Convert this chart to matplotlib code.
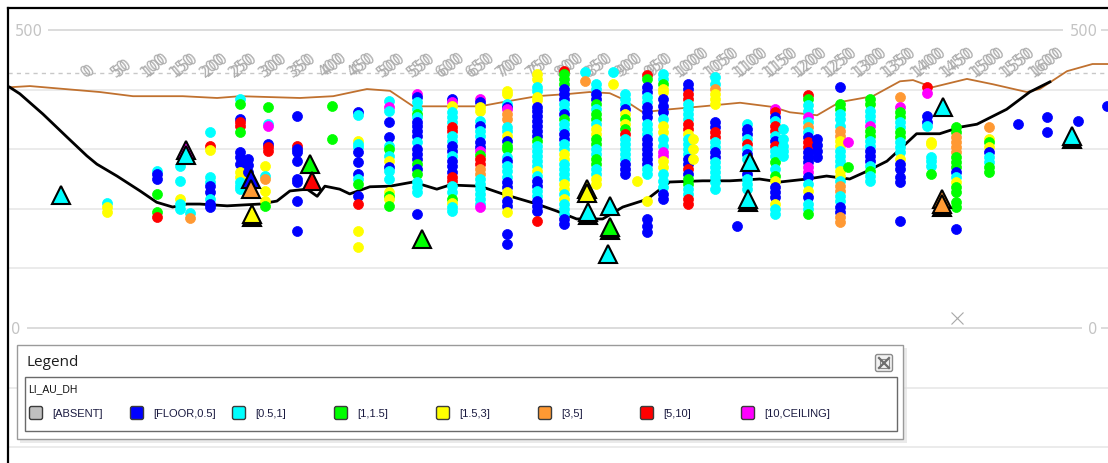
import matplotlib
matplotlib.use('Agg')
import matplotlib.pyplot as plt
from matplotlib.patches import Rectangle, FancyBboxPatch
import matplotlib.transforms as mtransforms

# ---------------- data ----------------
CLASS_CODES = ['A', 'B', 'C', 'G', 'Y', 'O', 'R', 'M']
CLASS_LABELS = ['[ABSENT]', '[FLOOR,0.5]', '[0.5,1]', '[1,1.5]', '[1.5,3]',
                '[3,5]', '[5,10]', '[10,CEILING]']
CLASS_COLORS = ['#C0C0C0', '#0000FF', '#00FFFF', '#00FF00', '#FFFF00',
                '#FF9933', '#FF0000', '#FF00FF']
LEGEND_FIELD = 'LI_AU_DH'

# topography (distance along section, elevation)
TOPO_X = [-132, -98, 20, 76, 160, 218, 257, 358, 414, 471, 510, 549, 616, 662, 700,
          758, 814, 847, 881, 903, 937, 982, 1038, 1101, 1156, 1185, 1231, 1269, 1325,
          1371, 1393, 1426, 1484, 1528, 1585, 1607, 1653, 1696, 1740]
TOPO_Z = [404, 406, 396, 389, 389, 386, 389, 386, 389, 401, 398, 372, 372, 372, 379,
          389, 393, 396, 394, 384, 362, 367, 372, 378, 371, 362, 357, 379, 389,
          414, 416, 404, 418, 409, 396, 401, 431, 443, 443]

# base surface
BASE_X = [-132, -115, -76, -35, -2, 15, 49, 88, 116, 143, 167, 189, 235, 290, 319, 341,
          370, 387, 400, 425, 442, 476, 510, 549, 589, 611, 662, 700, 758, 792, 825,
          869, 903, 944, 982, 1038, 1084, 1134, 1168, 1214, 1247, 1286, 1315, 1349,
          1371, 1399, 1438, 1472, 1501, 1551, 1590, 1624]
BASE_Z = [404, 393, 359, 320, 289, 275, 255, 230, 211, 203, 208, 208, 205, 208, 213, 230,
          233, 221, 238, 233, 225, 237, 238, 245, 233, 240, 238, 225, 208, 196, 183,
          183, 203, 216, 245, 247, 247, 250, 245, 250, 255, 250, 263, 280,
          300, 326, 326, 337, 342, 367, 396, 413]

# drill-hole samples: hole position, sample elevations, grade class per sample
HOLE_X = [32, 116, 155, 172, 206, 257, 270, 299, 304, 353, 412, 456, 508, 555, 614, 662,
          707, 758, 803, 839, 858, 886, 906, 927, 944, 971, 1013, 1021, 1058, 1096, 1112,
          1160, 1173, 1215, 1231, 1269, 1283, 1320, 1371, 1416, 1423, 1465, 1521, 1570,
          1620, 1671, 1720]
HOLE_Z = [
    [210, 203, 195],
    [263, 258, 250, 225, 195, 186],
    [272, 247, 216, 208, 200],
    [193, 185],
    [329, 305, 299, 253, 245, 238, 228, 216, 208, 203],
    [384, 376, 351, 346, 339, 329, 295, 287, 275, 262, 253, 245, 238, 233],
    [284, 274, 262],
    [272, 255, 250, 230, 213, 205],
    [371, 342, 339, 309, 304, 297],
    [356, 305, 300, 295, 280, 250, 245, 213, 163],
    [373, 317],
    [362, 357, 314, 309, 304, 295, 279, 258, 250, 242, 221, 208, 163, 136],
    [381, 371, 364, 346, 320, 305, 300, 289, 280, 270, 263, 250, 228, 221, 216, 205],
    [393, 388, 379, 367, 359, 354, 346, 339, 331, 322, 312, 300, 292, 284, 275, 267,
     258, 245, 237, 228, 191],
    [384, 379, 373, 362, 354, 346, 337, 331, 322, 314, 305, 297, 289, 280, 272, 262,
     253, 247, 238, 228, 216, 210, 203, 196],
    [384, 379, 371, 364, 347, 339, 331, 322, 312, 304, 297, 290, 284, 275, 267, 258,
     250, 242, 233, 225, 216, 208, 203],
    [398, 393, 376, 371, 367, 359, 351, 337, 331, 322, 314, 305, 300, 287, 280, 272,
     263, 253, 245, 237, 228, 221, 213, 205, 195, 158, 141],
    [426, 418, 404, 398, 388, 383, 371, 364, 356, 347, 339, 331, 322, 314, 305, 297,
     289, 280, 272, 263, 255, 247, 238, 230, 221, 213, 205, 196, 180],
    [431, 426, 418, 409, 401, 393, 384, 376, 367, 359, 351, 342, 334, 326, 317, 309,
     300, 292, 284, 275, 267, 258, 250, 242, 233, 225, 216, 208, 200, 191, 183, 175],
    [430, 414],
    [409, 401, 393, 384, 376, 367, 359, 351, 342, 334, 326, 317, 309, 300, 292, 284,
     275, 267, 258, 250, 242],
    [430, 409],
    [393, 384, 376, 367, 359, 351, 342, 334, 326, 317, 309, 300, 292, 284, 275, 267, 258],
    [247],
    [425, 418, 404, 396, 388, 379, 371, 362, 354, 342, 334, 326, 317, 309, 300, 292,
     284, 275, 267, 258, 213, 183, 171, 161],
    [426, 418, 409, 401, 396, 384, 373, 362, 351, 339, 329, 317, 305, 295, 289, 280,
     270, 258, 247, 237, 225, 216],
    [409, 401, 393, 384, 376, 367, 359, 351, 342, 334, 326, 317, 309, 300, 292, 284,
     275, 267, 258, 250, 242, 233, 225, 216, 208],
    [317, 300, 284],
    [421, 409, 401, 393, 384, 376, 346, 337, 329, 320, 312, 304, 295, 287, 279, 270,
     262, 253, 245, 233],
    [171],
    [342, 334, 326, 317, 309, 300, 292, 284, 267, 258, 250, 242, 233],
    [367, 362, 354, 347, 339, 331, 322, 314, 305, 297, 289, 279, 267, 255, 247, 237,
     228, 220, 208, 200, 191],
    [334, 317, 305, 297, 289],
    [391, 384, 374, 364, 354, 346, 337, 329, 320, 312, 304, 295, 287, 279, 270, 262,
     253, 242, 230, 220, 208, 200, 191],
    [317, 307, 297, 287],
    [404, 376, 367, 359, 351, 339, 331, 322, 314, 305, 297, 289, 280, 272, 263, 255,
     247, 238, 230, 221, 213, 203, 195, 186, 178],
    [312, 270],
    [384, 376, 364, 356, 347, 339, 331, 322, 314, 305, 297, 289, 280, 272, 263, 255, 247],
    [388, 371, 362, 354, 346, 337, 329, 320, 312, 304, 295, 284, 275, 267, 253, 245, 180],
    [404, 395, 356, 346, 339],
    [312, 309, 287, 280, 272, 258],
    [337, 329, 320, 312, 304, 295, 287, 279, 270, 262, 253, 245, 237, 228, 211, 203, 166],
    [337, 317, 312, 304, 295, 287, 279, 270, 262],
    [342],
    [354, 329],
    [347],
    [373],
]
HOLE_C = [
    "CYY", "CBBGGR", "CCYCC", "CO", "CRYCCBBCBB", "CGBRRGBBBYYCCC", "BBB", "YCOYYG",
    "GCMBRR", "BRBBBBBBB", "GG", "BCYCCBBBCGBRYY", "CMCBBCGCYBCCYGYG",
    "MBCCGCBBBBCBBBGBGCCCB", "BMYCCCRRCCBBCBBBRRCCGYCC", "MBYYCBCCBBMGRROOCCCCCCM",
    "YYCBMOOCCYBGGCBCCCBBYYBBYBB", "YYCCYYBBBBBBBGCCCCCYCBBCCBBBR",
    "RGGGBBBCCBGCCBBCCYYCCCCYYCYCCCBB", "CO", "CCBBGCGGCYYGGCCGGCCYY", "CY",
    "CCCBYGYGRCCCCCBBB", "Y", "RGBBCCBBBCCCBBBBBBCCYBBB", "CCGYYBBBCYYCCMMYYCCCBB",
    "BBRRCCCCRRYCCCCBBRBGGCCRR", "YYY", "CCOYYYBBRRCCBBCCCCCC", "B", "CBBCRCBCBBCCC",
    "MRBCRRCBRCCGCGYBBBYCC", "CCCCC", "RGCCMCOCBRRBBBMMBCYBCCG", "BBBB",
    "BGGCCCOOYYCCCCYYCOOCCBBOO", "MG", "GGCCCMGGCCBBBCGCC", "OMGGCCGGCCCYBBBBB",
    "RMBBC", "YYCCCG", "GGOOOOGGGBCYGGGGB", "OYGYBCCGG", "B", "BB", "B", "B",
]

# surface / channel samples (triangles); 'K' = black stacked outline
TRI_X = [-46, 165, 165, 275, 275, 277, 277, 375, 378, 564, 842, 842, 844, 844, 881,
         881, 881, 878, 1117, 1114, 1114, 1443, 1442, 1442, 1442, 1661, 1661]
TRI_Z = [223, 299, 290, 250, 233, 186, 191, 275, 247, 149, 233, 226, 190, 195, 205,
         164, 169, 124, 279, 211, 216, 371, 203, 216, 208, 317, 322]
TRI_C = "CMCBOKYGRGYYKCCKGCCKCCKOOKC"

SECTION_TICKS = [0, 50, 100, 150, 200, 250, 300, 350, 400, 450, 500, 550, 600, 650,
                 700, 750, 800, 850, 900, 950, 1000, 1050, 1100, 1150, 1200, 1250,
                 1300, 1350, 1400, 1450, 1500, 1550, 1600]
ELEV_LABELS = [500, 0]
GRID_ELEVS = [400, 300, 200, 100, -100, -200]

COLOR = dict(zip(CLASS_CODES, CLASS_COLORS))
COLOR['K'] = '#000000'

# ---------------- figure ----------------
W, H = 1108, 464
fig = plt.figure(figsize=(W / 100, H / 100), dpi=100)
fig.patch.set_facecolor('white')

ax = fig.add_axes([8 / W, 1 - 475 / H, (1115 - 8) / W, (475 - 9) / H])
ax.set_xlim(-135, 1734)
ax.set_ylim(-245, 537)
ax.set_xticks([])
ax.set_yticks([])
for s in ['right', 'bottom']:
    ax.spines[s].set_visible(False)
for s in ['left', 'top']:
    ax.spines[s].set_linewidth(1.6)
    ax.spines[s].set_color('black')

# grid
for e in GRID_ELEVS:
    ax.axhline(e, color='#e8e8e8', lw=1.2, zorder=0)
ax.hlines(500, -67, 1647, color='#d6d6d6', lw=1.2, zorder=0)
ax.hlines(500, 1711, 1800, color='#d6d6d6', lw=1.2, zorder=0)
ax.hlines(0, -103, 1679, color='#d6d6d6', lw=1.2, zorder=0)
ax.hlines(0, 1710, 1800, color='#d6d6d6', lw=1.2, zorder=0)
ax.axhline(428, color='#c8c8c8', lw=1.0, ls=(0, (3, 3)), zorder=0.5)

ylab_pos = {500: (-100, 1681), 0: (-122, 1696)}
for v in ELEV_LABELS:
    for xp in ylab_pos[v]:
        ax.text(xp, v, str(v), ha='center', va='center', color='#c4c4c4',
                fontsize=10.5, zorder=1)

# section distance labels (doubled as in the original rendering)
off = mtransforms.offset_copy(ax.transData, fig=fig, x=3, y=0.5, units='dots')
for d in SECTION_TICKS:
    for tr in (ax.transData, off):
        ax.text(d, 418, str(d), rotation=40, rotation_mode='anchor', ha='left',
                va='bottom', color='#adadad', fontsize=10.5, transform=tr, zorder=1)

# lines
ax.plot(TOPO_X, TOPO_Z, color='#C0712F', lw=1.3, zorder=2)
ax.plot(BASE_X, BASE_Z, color='black', lw=2.0, zorder=2.5)

# drill hole samples
for hx, zs, cs in zip(HOLE_X, HOLE_Z, HOLE_C):
    for z, c in zip(zs, cs):
        ax.plot(hx, z, marker='o', ms=7.2, color=COLOR[c], mec=COLOR[c], mew=0.5,
                zorder=3, linestyle='none')

# triangles
for tx, tz, tc in zip(TRI_X, TRI_Z, TRI_C):
    ax.plot(tx, tz, marker='^', ms=12.5, color=COLOR[tc], mec='black', mew=1.5,
            zorder=4, linestyle='none')

ax.plot(1467, 17, marker='x', color='#a8a8a8', ms=8, mew=0.8, zorder=2)

# ---------------- floating legend window ----------------
lax = fig.add_axes([0, 0, 1, 1], zorder=10)
lax.set_xlim(0, W)
lax.set_ylim(H, 0)
lax.axis('off')
lax.patch.set_alpha(0)

lax.add_patch(Rectangle((20, 349), 887, 95, fc='#dcdcdc', ec='none', alpha=0.6))
lax.add_patch(Rectangle((17, 346), 886, 94, fc='white', ec='#9a9a9a', lw=1))
lax.text(27, 363, 'Legend', fontsize=11, family='Open Sans', color='#1e1e1e',
         va='center', ha='left')
lax.add_patch(FancyBboxPatch((876, 356), 16, 16, boxstyle='round,pad=0.5,rounding_size=2',
                             fc='#f2f2f2', ec='#8c8c8c', lw=1))
lax.add_patch(Rectangle((879.5, 359.5), 9, 9, fc='none', ec='#8a8a8a', lw=0.8))
lax.plot([879, 889], [359, 369], color='#6e6e6e', lw=1.6)
lax.plot([889, 879], [359, 369], color='#6e6e6e', lw=1.6)
lax.add_patch(Rectangle((25, 378), 872, 54, fc='white', ec='#6a6a6a', lw=1))
lax.text(28, 389, LEGEND_FIELD, fontsize=7.5, family='Liberation Sans',
         color='#111111', va='center', ha='left')

item_cx = [36, 137, 239, 341, 443, 545, 647, 748]
for cx, lab, col in zip(item_cx, CLASS_LABELS, CLASS_COLORS):
    lax.add_patch(FancyBboxPatch((cx - 6, 408), 12, 12,
                                 boxstyle='round,pad=0.5,rounding_size=2',
                                 fc=col, ec='#3c3c3c', lw=1))
    lax.text(cx + 16, 414.5, lab, fontsize=8, family='Liberation Sans',
             color='#1a1a40', va='center', ha='left')

fig.savefig('out.png', dpi=100, facecolor='white')
